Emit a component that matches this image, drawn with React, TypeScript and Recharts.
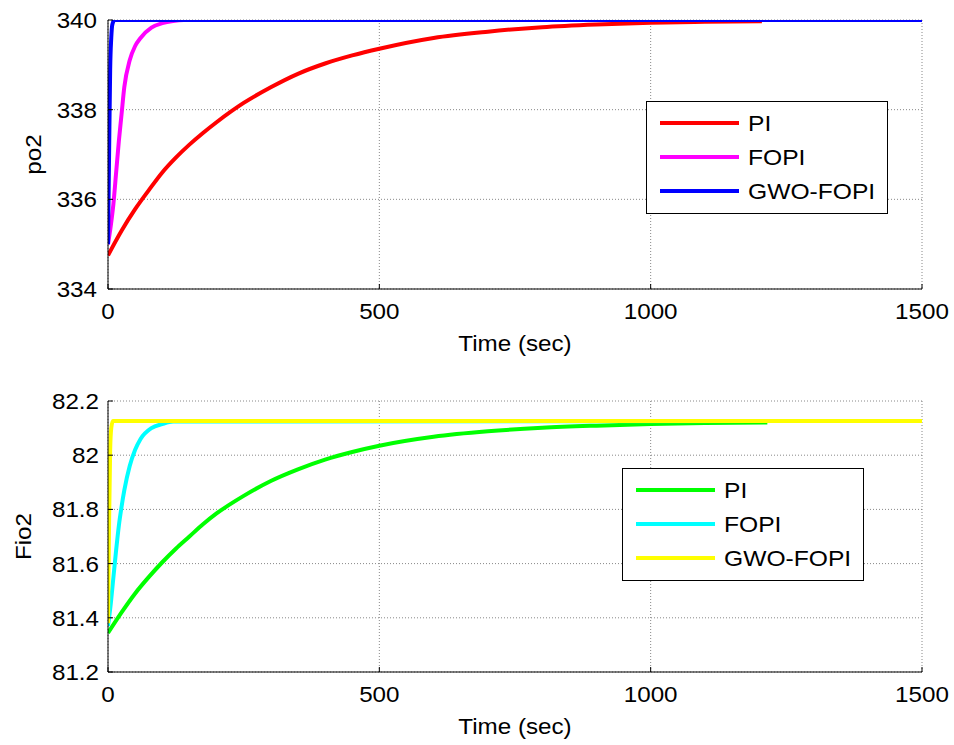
import React from "react";
import { LineChart, Line, XAxis, YAxis, CartesianGrid, Legend } from "recharts";

const FONT = '"Liberation Sans", Arial, sans-serif';

const seriesNames = ["PI", "FOPI", "GWO-FOPI"];
const timeTicks = [0, 500, 1000, 1500];
const poTicks = [334, 336, 338, 340];
const fioTicks = [81.2, 81.4, 81.6, 81.8, 82, 82.2];

// po2 responses
const poPiTime = [0, 25, 50, 75, 100, 125, 150, 175, 200, 250, 300, 350, 400, 450, 500, 600, 700, 800, 900, 1000, 1100, 1205];
const poPiValue = [334.75, 335.3, 335.78, 336.2, 336.6, 336.93, 337.22, 337.48, 337.72, 338.15, 338.5, 338.8, 339.03, 339.21, 339.36, 339.6, 339.74, 339.84, 339.9, 339.94, 339.96, 339.97];
const poFopiTime = [0, 5, 10, 15, 20, 25, 30, 40, 50, 60, 80, 100, 120, 140, 1500];
const poFopiValue = [335.0, 335.4, 335.9, 336.6, 337.3, 337.9, 338.5, 339.1, 339.42, 339.6, 339.83, 339.93, 339.98, 340, 340];
const poGwoTime = [0, 2, 4, 6, 8, 12, 1500];
const poGwoValue = [335.0, 337.0, 338.9, 339.6, 339.9, 340, 340];

// Fio2 responses
const fioPiTime = [0, 25, 50, 75, 100, 125, 150, 175, 200, 250, 300, 350, 400, 450, 500, 600, 700, 800, 900, 1000, 1100, 1215];
const fioPiValue = [81.344, 81.42, 81.49, 81.55, 81.605, 81.655, 81.7, 81.745, 81.785, 81.85, 81.905, 81.948, 81.984, 82.012, 82.035, 82.068, 82.088, 82.101, 82.109, 82.115, 82.119, 82.121];
const fioFopiTime = [0, 5, 10, 15, 20, 25, 30, 40, 50, 60, 80, 100, 120, 1500];
const fioFopiValue = [81.37, 81.45, 81.55, 81.65, 81.74, 81.81, 81.87, 81.96, 82.02, 82.06, 82.1, 82.115, 82.124, 82.126];
const fioGwoTime = [0, 2, 4, 6, 9, 1500];
const fioGwoValue = [81.38, 81.75, 82.02, 82.1, 82.126, 82.126];

const zip = (t: number[], v: number[]) => t.map((x, i) => ({ t: x, v: v[i] }));

const XTick = (props: any) => {
  const { x, y, payload } = props;
  return (
    <text transform={`translate(${x},${y}) scale(1.1,1)`} textAnchor="middle" dy="0.72em" fontSize={22} fontFamily={FONT} fill="#000">
      {payload.value}
    </text>
  );
};

const YTick = (props: any) => {
  const { x, y, payload } = props;
  return (
    <text transform={`translate(${x},${y}) scale(1.1,1)`} textAnchor="end" dy="0.36em" fontSize={22} fontFamily={FONT} fill="#000">
      {Number(Number(payload.value).toFixed(1)).toString()}
    </text>
  );
};

const XTitle = (props: any) => {
  const vb = props.viewBox;
  return (
    <text transform={`translate(${vb.x + vb.width / 2},${vb.y + 62}) scale(1.1,1)`} textAnchor="middle" fontSize={22} fontFamily={FONT} fill="#000">
      Time (sec)
    </text>
  );
};

const yTitle = (text: string, dx: number) => (props: any) => {
  const vb = props.viewBox;
  return (
    <text transform={`translate(${vb.x + dx},${vb.y + vb.height / 2}) rotate(-90) scale(1.1,1)`} textAnchor="middle" dy="0.35em" fontSize={22} fontFamily={FONT} fill="#000">
      {text}
    </text>
  );
};

const legendBox = (props: any) => {
  const items = [...(props.payload || [])].sort(
    (a: any, b: any) => seriesNames.indexOf(a.value) - seriesNames.indexOf(b.value)
  );
  return (
    <svg width={242} height={113} style={{ display: "block", background: "#fff", border: "1px solid #000", boxSizing: "border-box" }}>
      {items.map((it: any, i: number) => (
        <g key={it.value}>
          <line x1={13} x2={92} y1={21 + i * 34} y2={21 + i * 34} stroke={it.color} strokeWidth={4} />
          <text transform={`translate(101,${21 + i * 34}) scale(1.12,1)`} dy="0.36em" fontSize={22} fontFamily={FONT} fill="#000">
            {it.value}
          </text>
        </g>
      ))}
    </svg>
  );
};

type Panel = {
  top: number;
  height: number;
  margin: { top: number; right: number; bottom: number; left: number };
  domain: [number, number];
  ticks: number[];
  title: string;
  titleDx: number;
  tickMarginY: number;
  legendPos: { left: number; top: number };
  colors: string[];
  data: { t: number; v: number }[][];
};

const panels: Panel[] = [
  {
    top: 0,
    height: 372,
    margin: { top: 20, right: 32, bottom: 53, left: 48 },
    domain: [334, 340],
    ticks: poTicks,
    title: "po2",
    titleDx: -15,
    tickMarginY: 16,
    legendPos: { left: 646, top: 101 },
    colors: ["#ff0000", "#ff00ff", "#0000ff"],
    data: [zip(poPiTime, poPiValue), zip(poFopiTime, poFopiValue), zip(poGwoTime, poGwoValue)],
  },
  {
    top: 372,
    height: 373,
    margin: { top: 29, right: 32, bottom: 43, left: 48 },
    domain: [81.2, 82.2],
    ticks: fioTicks,
    title: "Fio2",
    titleDx: -25,
    tickMarginY: 14,
    legendPos: { left: 622, top: 96 },
    colors: ["#00ff00", "#00ffff", "#ffff00"],
    data: [zip(fioPiTime, fioPiValue), zip(fioFopiTime, fioFopiValue), zip(fioGwoTime, fioGwoValue)],
  },
];

export default function App() {
  return (
    <div style={{ position: "absolute", left: 0, top: 0, width: 954, height: 745, background: "#fff" }}>
      {panels.map((p) => (
        <div key={p.title} style={{ position: "absolute", left: 0, top: p.top }}>
          <LineChart width={954} height={p.height} margin={p.margin}>
            <CartesianGrid stroke="#888" strokeDasharray="1 2" horizontalValues={p.ticks} verticalValues={timeTicks} />
            <XAxis
              xAxisId={0}
              type="number"
              dataKey="t"
              domain={[0, 1500]}
              ticks={timeTicks}
              allowDataOverflow
              height={30}
              stroke="#000"
              tickSize={-5}
              tickMargin={19}
              tick={<XTick />}
              label={{ content: XTitle }}
            />
            <XAxis
              xAxisId="top"
              orientation="top"
              type="number"
              domain={[0, 1500]}
              ticks={timeTicks}
              height={0}
              stroke="#000"
              tickSize={-5}
              tickFormatter={() => ""}
            />
            <YAxis
              yAxisId={0}
              type="number"
              domain={p.domain}
              ticks={p.ticks}
              allowDataOverflow
              width={60}
              stroke="#000"
              tickSize={-5}
              tickMargin={p.tickMarginY}
              tick={<YTick />}
              label={{ content: yTitle(p.title, p.titleDx) }}
            />
            <YAxis
              yAxisId="right"
              orientation="right"
              type="number"
              domain={p.domain}
              ticks={p.ticks}
              width={0}
              stroke="#000"
              tickSize={-5}
              tickFormatter={() => ""}
            />
            <Legend
              layout="vertical"
              align="center"
              verticalAlign="middle"
              content={legendBox}
              wrapperStyle={{ left: p.legendPos.left, top: p.legendPos.top, width: 242, height: 113 }}
            />
            {seriesNames.map((name, i) => (
              <Line
                key={name}
                name={name}
                data={p.data[i]}
                dataKey="v"
                type="monotone"
                stroke={p.colors[i]}
                strokeWidth={4}
                dot={false}
                activeDot={false}
                isAnimationActive={false}
              />
            ))}
          </LineChart>
        </div>
      ))}
    </div>
  );
}
